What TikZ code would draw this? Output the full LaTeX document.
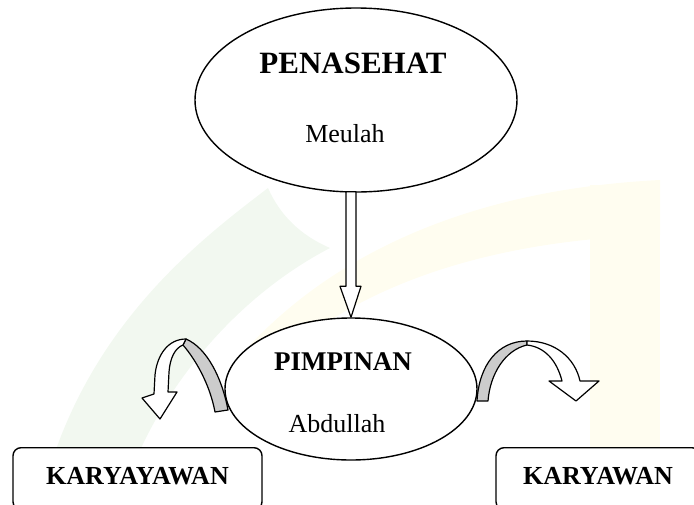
\documentclass[tikz,border=0pt]{standalone}
\usepackage{fontspec}
\setmainfont{Liberation Serif}
\usetikzlibrary{positioning,arrows.meta,shapes.geometric,calc,backgrounds}
\definecolor{bandgray}{RGB}{204,204,204}
\definecolor{wmgreen}{RGB}{242,248,240}
\definecolor{wmyellow}{RGB}{255,253,240}
\tikzset{
  oval/.style={ellipse,draw,line width=1.4pt,fill=white,inner sep=0pt},
  staffbox/.style={rectangle,draw,line width=1.4pt,fill=white,
                   rounded corners=8pt,inner sep=0pt,text depth=6pt,
                   font=\fontsize{26}{28}\selectfont\bfseries},
  ribbon/.style={draw,line width=1.2pt,line join=round},
  title/.style={font=\fontsize{31}{34}\selectfont\bfseries},
  subtitle/.style={font=\fontsize{27}{30}\selectfont\bfseries},
  person/.style={font=\fontsize{26}{28}\selectfont},
}

\begin{document}
\begin{tikzpicture}[x=1pt,y=-1pt]
\useasboundingbox (0,0) rectangle (694,504);
\clip (0,0) rectangle (694,504);

% faint watermark
\fill[wmyellow] (590,185) rectangle (660,504);
\fill[wmyellow] (250,345) .. controls (330,260) and (460,190) .. (660,180)
  -- (660,235) .. controls (480,240) and (360,290) .. (290,350) -- cycle;
\fill[wmgreen] (40,504) .. controls (80,330) and (200,240) .. (268,188)
  .. controls (280,215) and (300,235) .. (330,248)
  .. controls (230,300) and (150,400) .. (120,504) -- cycle;

% nodes
\node[oval,minimum width=322pt,minimum height=184pt] (penasehat) at (356,100) {};
\node[title] (penasehat-t) at (353,63) {PENASEHAT};
\node[person] (penasehat-n) at (345,134) {Meulah};

\node[oval,minimum width=252pt,minimum height=142pt] (pimpinan) at (351,389) {};
\node[subtitle] (pimpinan-t) at (343,362) {PIMPINAN};
\node[person] (pimpinan-n) at (337,424) {Abdullah};

\node[staffbox,minimum width=249pt,minimum height=62pt,anchor=north] (kiri) at (137.5,447) {KARYAYAWAN};
\node[staffbox,minimum width=204pt,minimum height=62pt,anchor=north] (kanan) at (598,447) {KARYAWAN};

% hollow arrow penasehat -> pimpinan
\coordinate (tip) at (pimpinan.north);
\coordinate (top) at (tip |- penasehat.south);
\draw[ribbon,fill=white] ($(top)+(-5,-1)$) -- ($(tip)+(-5,-31)$) -- ($(tip)+(-11,-31)$)
  -- (tip) -- ($(tip)+(10,-31)$) -- ($(tip)+(5,-31)$) -- ($(top)+(5,-1)$) -- cycle;

% curved arrow to the left
\draw[ribbon,fill=bandgray] (183,345) .. controls (196,360) and (210,385) .. (215,412)
  -- (228,410) .. controls (222,378) and (207,348) .. (186,339) -- cycle;
\draw[ribbon,fill=white] (186,339) .. controls (168,339) and (157,355) .. (155,375)
  -- (154,394) -- (142,398) -- (160,419) -- (177,392) -- (168,392) -- (169,372)
  .. controls (170,358) and (175,348) .. (183,345) -- cycle;

% curved arrow to the right
\draw[ribbon,fill=bandgray] (477,401) -- (488,401) .. controls (490,374) and (505,350) .. (527,345)
  -- (527,341) .. controls (498,341) and (479,365) .. (477,401) -- cycle;
\draw[ribbon,fill=white] (527,341) .. controls (555,341) and (575,358) .. (580,381)
  -- (599,381) -- (576,401) -- (549,381) -- (562,381)
  .. controls (557,361) and (545,347) .. (527,345) -- cycle;
\end{tikzpicture}
\end{document}
